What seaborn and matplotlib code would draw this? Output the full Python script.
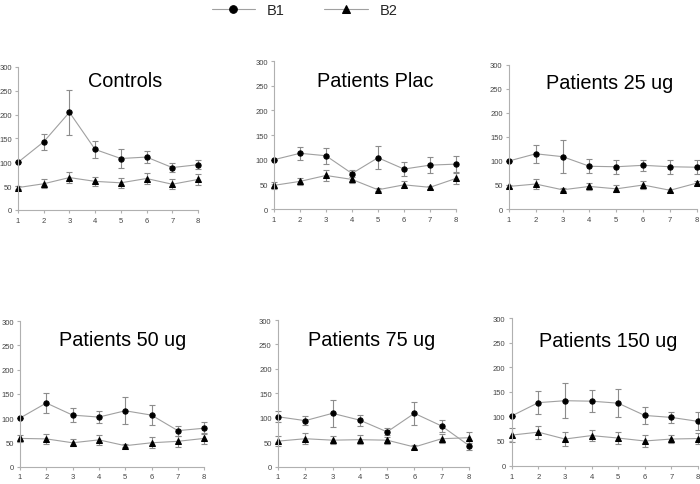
import numpy as np
import pandas as pd
import matplotlib
matplotlib.use("Agg")
import matplotlib.pyplot as plt
import seaborn as sns

# sessions 1..8
sessions = [1, 2, 3, 4, 5, 6, 7, 8]
titles = ["Controls", "Patients Plac", "Patients 25 ug",
          "Patients 50 ug", "Patients 75 ug", "Patients 150 ug"]

# B1 means / errors per group
b1_controls = [100, 143, 205, 127, 108, 111, 89, 95]
b1_controls_err = [0, 17, 47, 18, 19, 12, 10, 10]
b1_plac = [100, 113, 108, 72, 104, 81, 89, 91]
b1_plac_err = [0, 13, 16, 8, 23, 15, 16, 16]
b1_25 = [100, 115, 109, 89, 88, 91, 88, 87]
b1_25_err = [0, 19, 35, 15, 15, 12, 15, 15]
b1_50 = [100, 131, 106, 102, 115, 106, 74, 79]
b1_50_err = [0, 20, 15, 13, 28, 21, 10, 12]
b1_75 = [102, 94, 109, 95, 71, 109, 83, 43]
b1_75_err = [11, 9, 27, 11, 7, 24, 12, 9]
b1_150 = [101, 128, 132, 131, 127, 102, 98, 90]
b1_150_err = [0, 23, 35, 23, 29, 17, 12, 18]

# B2 means / errors per group
b2_controls = [47, 55, 68, 60, 57, 66, 54, 64]
b2_controls_err = [3, 9, 12, 9, 10, 11, 10, 12]
b2_plac = [48, 56, 68, 60, 39, 49, 44, 62]
b2_plac_err = [7, 7, 12, 8, 3, 7, 3, 11]
b2_25 = [47, 52, 40, 47, 42, 50, 39, 54]
b2_25_err = [3, 11, 3, 7, 7, 9, 3, 5]
b2_50 = [58, 57, 49, 55, 43, 49, 52, 58]
b2_50_err = [8, 10, 7, 10, 3, 11, 11, 12]
b2_75 = [52, 57, 54, 55, 54, 40, 57, 59]
b2_75_err = [10, 11, 8, 9, 7, 5, 9, 11]
b2_150 = [62, 68, 54, 61, 56, 50, 54, 55]
b2_150_err = [15, 13, 14, 12, 12, 12, 9, 11]

b1_all = [b1_controls, b1_plac, b1_25, b1_50, b1_75, b1_150]
b1_err_all = [b1_controls_err, b1_plac_err, b1_25_err, b1_50_err, b1_75_err, b1_150_err]
b2_all = [b2_controls, b2_plac, b2_25, b2_50, b2_75, b2_150]
b2_err_all = [b2_controls_err, b2_plac_err, b2_25_err, b2_50_err, b2_75_err, b2_150_err]

sns.set_style("white")
plt.rcParams["font.family"] = ["Liberation Sans", "DejaVu Sans"]

fig = plt.figure(figsize=(7, 4.85), dpi=100)

# axes boxes [left, bottom, width, height] and title spots
boxes = [
    [0.0257, 0.565, 0.2571, 0.2948],
    [0.3914, 0.567, 0.2600, 0.3050],
    [0.7270, 0.567, 0.2686, 0.2970],
    [0.0286, 0.036, 0.2630, 0.3000],
    [0.3970, 0.036, 0.2730, 0.3020],
    [0.7310, 0.038, 0.2660, 0.3040],
]
title_pos = [(0.594, 0.904), (0.558, 0.872), (0.535, 0.88),
             (0.557, 0.87), (0.492, 0.866), (0.52, 0.847)]

line_col = "#a0a0a0"
err_col = "#8c8c8c"
handles = None

for i in range(6):
    ax = fig.add_axes(boxes[i])
    df = pd.DataFrame({
        "session": sessions * 2,
        "value": b1_all[i] + b2_all[i],
        "series": ["B1"] * 8 + ["B2"] * 8,
    })
    ax.errorbar(sessions, b1_all[i], yerr=b1_err_all[i], fmt="none",
                ecolor=err_col, elinewidth=0.8, capsize=2, capthick=0.8, clip_on=False)
    ax.errorbar(sessions, b2_all[i], yerr=b2_err_all[i], fmt="none",
                ecolor=err_col, elinewidth=0.8, capsize=2, capthick=0.8, clip_on=False)
    sns.lineplot(data=df, x="session", y="value", style="series",
                 markers={"B1": "o", "B2": "^"}, dashes=False, color=line_col,
                 linewidth=0.8, markersize=3.8, mfc="black", mec="black",
                 legend=(i == 0), ax=ax, clip_on=False)
    if i == 0:
        handles, labels = ax.get_legend_handles_labels()
        ax.get_legend().remove()
    ax.set_xlim(1, 8)
    ax.set_ylim(0, 300)
    ax.set_xticks(sessions)
    ax.set_yticks([0, 50, 100, 150, 200, 250, 300])
    ax.set_xlabel("")
    ax.set_ylabel("")
    for s in ["top", "right"]:
        ax.spines[s].set_visible(False)
    for s in ["left", "bottom"]:
        ax.spines[s].set_color("#b0b0b0")
        ax.spines[s].set_linewidth(0.8)
    ax.tick_params(axis="both", labelsize=5.5, labelcolor="#444444", color="#b0b0b0",
                   length=2.5, width=0.8, pad=2, left=True, bottom=True)
    ax.tick_params(axis="x", pad=2.5)
    ax.text(title_pos[i][0], title_pos[i][1], titles[i], transform=ax.transAxes,
            ha="center", va="center", fontsize=14.3, color="black")

for h in handles:
    h.set_color(line_col)
    h.set_markerfacecolor("black")
    h.set_markeredgecolor("black")
    h.set_markersize(5.5)
fig.legend(handles, labels, loc="upper center", bbox_to_anchor=(0.435, 1.012), ncol=2,
           frameon=False, fontsize=10.5, handlelength=3, handletextpad=0.8,
           columnspacing=2.7, borderpad=0.2)

fig.savefig("out.png", dpi=100)
